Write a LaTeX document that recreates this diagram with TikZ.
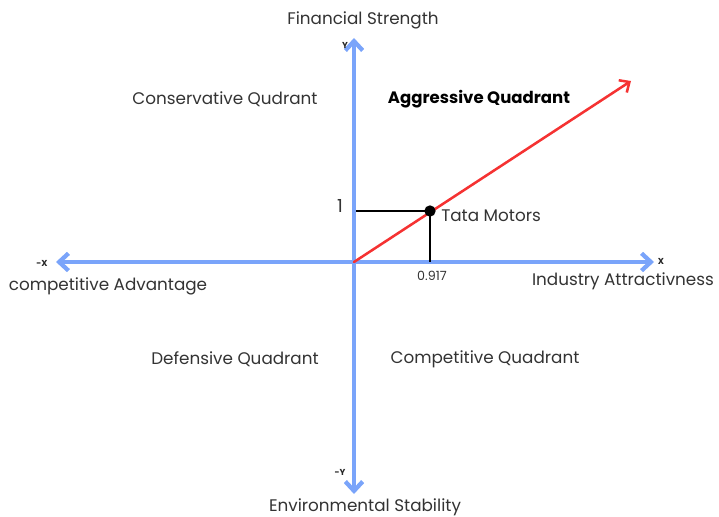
\documentclass[tikz,border=0pt]{standalone}
\usepackage{fontspec}
\setmainfont{Poppins}
\usetikzlibrary{arrows.meta}
\definecolor{axisblue}{RGB}{122,164,250}
\definecolor{linered}{RGB}{245,50,50}
\tikzset{
  axis/.style={draw=axisblue, line width=3.4pt, line cap=round, -{Straight Barb[length=7pt,width=13pt,line width=3.2pt]}},
  redline/.style={draw=linered, line width=1.9pt, line cap=round, -{Straight Barb[length=6pt,width=11pt,line width=1.9pt]}},
  guide/.style={draw=black, line width=1.5pt},
  lbl/.style={font=\fontsize{12.6}{14}\selectfont, text=black!80, inner sep=0pt},
  tiny/.style={font=\bfseries\fontsize{6.5}{7}\selectfont, text=black!85, inner sep=0pt},
}
\begin{document}
\begin{tikzpicture}[x=0.75pt,y=-0.75pt]
\useasboundingbox (0,0) rectangle (719,517);
\coordinate (O) at (354,262);
\coordinate (top) at (354,38);
\coordinate (bot) at (354,494);
\coordinate (left) at (56,262);
\coordinate (right) at (654,262);
\coordinate (rtip) at (631,81);
\coordinate (P) at (430,211);
\coordinate (Py) at (356,211);
\coordinate (Px) at (430,262);
\draw[axis] (O) -- (top);
\draw[axis] (O) -- (bot);
\draw[axis] (O) -- (left);
\draw[axis] (O) -- (right);
\draw[guide] (Py) -- (P);
\draw[guide] (P) -- (Px);
\draw[redline] (O) -- (rtip);
\node[circle, fill=black, inner sep=0pt, minimum size=8.5pt] (dot) at (P) {};
\node[lbl] (fs) at (363,20) {Financial Strength};
\node[lbl] (es) at (365,507) {Environmental Stability};
\node[lbl] (ia) at (623,281) {Industry Attractivness};
\node[lbl] (ca) at (108,286) {competitive Advantage};
\node[lbl] (cq) at (225,99) {Conservative Qudrant};
\node[lbl, font=\bfseries\fontsize{12.4}{14}\selectfont, text=black] (aq) at (479,99) {Aggressive Quadrant};
\node[lbl] (dq) at (235,359) {Defensive Quadrant};
\node[lbl] (cpq) at (485,359) {Competitive Quadrant};
\node[lbl, anchor=west] (tm) at (441,216) {Tata Motors};
\node[lbl, font=\fontsize{13.5}{14}\selectfont] (one) at (340,206) {1};
\node[lbl, font=\fontsize{9.5}{11}\selectfont] (v) at (432,276) {0.917};
\node[tiny] (yl) at (345,45) {Y};
\node[tiny] (myl) at (340,472) {-Y};
\node[tiny] (xl) at (661,261) {X};
\node[tiny] (mxl) at (42,263) {-X};
\end{tikzpicture}
\end{document}
